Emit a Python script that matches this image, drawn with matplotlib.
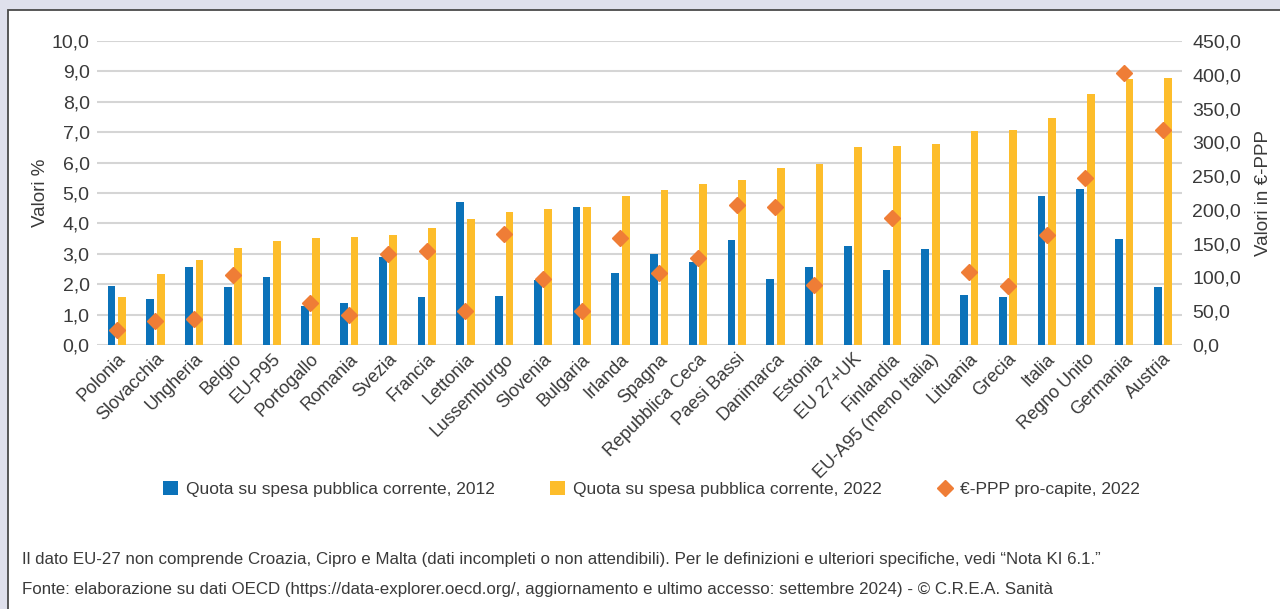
import numpy as np
import matplotlib
matplotlib.use("Agg")
import matplotlib.pyplot as plt
from matplotlib.patches import Rectangle

plt.rcParams['font.family'] = ['Liberation Sans', 'DejaVu Sans']

# --- dati ---
paesi = ["Polonia", "Slovacchia", "Ungheria", "Belgio", "EU-P95", "Portogallo",
         "Romania", "Svezia", "Francia", "Lettonia", "Lussemburgo", "Slovenia",
         "Bulgaria", "Irlanda", "Spagna", "Repubblica Ceca", "Paesi Bassi",
         "Danimarca", "Estonia", "EU 27+UK", "Finlandia", "EU-A95 (meno Italia)",
         "Lituania", "Grecia", "Italia", "Regno Unito", "Germania", "Austria"]

quota_2012 = [1.95, 1.50, 2.58, 1.92, 2.24, 1.28, 1.38, 2.88, 1.58, 4.70,
              1.62, 2.15, 4.55, 2.38, 2.99, 2.73, 3.45, 2.16, 2.57, 3.26,
              2.46, 3.15, 1.65, 1.58, 4.90, 5.12, 3.49, 1.92]

quota_2022 = [1.58, 2.34, 2.81, 3.18, 3.42, 3.52, 3.56, 3.61, 3.84, 4.13,
              4.36, 4.47, 4.55, 4.89, 5.09, 5.29, 5.43, 5.81, 5.96, 6.50,
              6.55, 6.61, 7.03, 7.07, 7.46, 8.25, 8.75, 8.78]

ppp_2022 = [22, 36, 38, 103, np.nan, 62, 44, 135, 139, 51,
            164, 98, 51, 158, 106, 129, 207, 204, 89, np.nan,
            188, np.nan, 108, 88, 163, 247, 402, 318]

blu = '#0b72b9'
giallo = '#fdbd2b'
arancio = '#ef7d36'
testo = '#3a3a3a'

fig = plt.figure(figsize=(12.8, 6.09), dpi=100)
fig.patch.set_facecolor('#dfe0ec')
# riquadro bianco
fig.patches.append(Rectangle((8 / 1280, -0.1), 1.2, 599 / 609 + 0.1,
                             transform=fig.transFigure, facecolor='white',
                             edgecolor='#4a4a4a', linewidth=1.3, zorder=-5))

ax = fig.add_axes([97.3 / 1280, 1 - 345 / 609, 1085 / 1280, 304 / 609])
ax.set_facecolor('none')
x = np.arange(len(paesi))
w = 0.2
ax.bar(x - 0.135, quota_2012, w, color=blu, zorder=3,
       label='Quota su spesa pubblica corrente, 2012')
ax.bar(x + 0.135, quota_2022, w, color=giallo, zorder=3,
       label='Quota su spesa pubblica corrente, 2022')
ax.set_xlim(-0.5, len(paesi) - 0.5)
ax.set_ylim(0, 10)
ax.set_yticks(np.arange(0, 11, 1))
ax.set_yticklabels([f"{v:.1f}".replace('.', ',') for v in range(11)])
ax.yaxis.grid(True, color='#d5d5d5', linewidth=1.5, zorder=0)
ax.set_axisbelow(True)
for s in ax.spines.values():
    s.set_visible(False)
ax.tick_params(axis='both', length=0, colors=testo, labelsize=14)
ax.tick_params(axis='y', pad=5.5)
ax.set_xticks(x)
ax.set_xticklabels(paesi, rotation=45, ha='right', va='top',
                   rotation_mode='anchor', fontsize=13, color=testo)
ax.tick_params(axis='x', pad=4)
ax.set_ylabel('Valori %', fontsize=13.5, color=testo, labelpad=2)

ax2 = ax.twinx()
ax2.plot(x, ppp_2022, linestyle='none', marker='D', markersize=8.5,
         color=arancio, zorder=4, label='€-PPP pro-capite, 2022')
ax2.set_ylim(0, 450)
ax2.set_yticks(np.arange(0, 451, 50))
ax2.set_yticklabels([f"{v:.1f}".replace('.', ',') for v in range(0, 451, 50)])
for s in ax2.spines.values():
    s.set_visible(False)
ax2.tick_params(axis='y', length=0, colors=testo, labelsize=14, pad=7)
ax2.set_ylabel('Valori in €-PPP', fontsize=13.5, color=testo, labelpad=10)

h1, l1 = ax.get_legend_handles_labels()
h2, l2 = ax2.get_legend_handles_labels()
leg = fig.legend(h1 + h2, l1 + l2, loc='center', bbox_to_anchor=(651.5 / 1280, 1 - 489 / 609),
                 ncol=3, frameon=False, fontsize=12.5, handlelength=0.85,
                 handleheight=0.85, handletextpad=0.45, columnspacing=3.2)
for t in leg.get_texts():
    t.set_color(testo)

fig.text(22 / 1280, 1 - 564 / 609,
         "Il dato EU-27 non comprende Croazia, Cipro e Malta (dati incompleti o non attendibili). "
         "Per le definizioni e ulteriori specifiche, vedi “Nota KI 6.1.”",
         fontsize=12.2, color=testo, va='baseline')
fig.text(22 / 1280, 1 - 594 / 609,
         "Fonte: elaborazione su dati OECD (https://data-explorer.oecd.org/, aggiornamento e ultimo "
         "accesso: settembre 2024) - © C.R.E.A. Sanità",
         fontsize=12.2, color=testo, va='baseline')

fig.savefig('out.png', dpi=100, facecolor=fig.get_facecolor())
